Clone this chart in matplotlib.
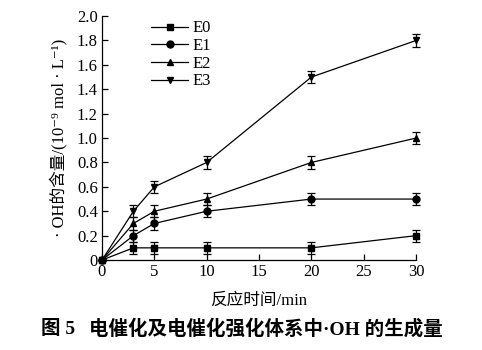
import matplotlib
matplotlib.use("Agg")
import matplotlib.pyplot as plt
from matplotlib.lines import Line2D

plt.rcParams['font.family'] = ['Liberation Serif', 'Noto Sans CJK SC', 'DejaVu Serif']

time_min = [0, 3, 5, 10, 20, 30]
e0 = [0, 0.1, 0.1, 0.1, 0.1, 0.2]
e1 = [0, 0.2, 0.3, 0.4, 0.5, 0.5]
e2 = [0, 0.3, 0.4, 0.5, 0.8, 1.0]
e3 = [0, 0.4, 0.6, 0.8, 1.5, 1.8]
err = [0, 0.05, 0.05, 0.05, 0.05, 0.05]
series_names = ['E0', 'E1', 'E2', 'E3']

fig = plt.figure(figsize=(4.82, 3.5), dpi=100)
ax = fig.add_axes([0.2116, 0.257, 0.6515, 0.697])

markers = ['s', 'o', '^', 'v']
handles = []
for ys, name, m in zip([e0, e1, e2, e3], series_names, markers):
    ax.errorbar(time_min, ys, yerr=err, color='black', marker=m, markersize=5,
                linewidth=0.9, elinewidth=0.9, capsize=3, capthick=0.9,
                clip_on=False)
    handles.append(Line2D([], [], color='black', marker=m, markersize=5,
                          linewidth=0.9, label=name))

ax.set_xlim(0, 30)
ax.set_ylim(0, 2.0)
ax.set_xticks([0, 5, 10, 15, 20, 25, 30])
ax.set_yticks([0, 0.2, 0.4, 0.6, 0.8, 1.0, 1.2, 1.4, 1.6, 1.8, 2.0])
ax.set_yticklabels(['0', '0.2', '0.4', '0.6', '0.8', '1.0', '1.2', '1.4',
                    '1.6', '1.8', '2.0'])
ax.tick_params(direction='in', length=4, width=0.9, labelsize=12, pad=3)
ax.spines['top'].set_visible(False)
ax.spines['right'].set_visible(False)
for s in ['left', 'bottom']:
    ax.spines[s].set_linewidth(0.9)

ax.set_xlabel('反应时间/min', fontsize=12, labelpad=9)
ax.set_ylabel('· OH的含量/(10⁻⁹ mol · L⁻¹)', fontsize=12, labelpad=6)

ax.legend(handles=handles, loc='upper left', bbox_to_anchor=(0.12, 1.03),
          frameon=False, fontsize=12, handlelength=2.2, labelspacing=0.1,
          borderpad=0.2, handletextpad=0.3)

fig.text(0.085, 0.06, '图 5', ha='left', va='center', fontsize=14,
         fontweight='bold')
fig.text(0.185, 0.06, '电催化及电催化强化体系中·OH 的生成量', ha='left',
         va='center', fontsize=14, fontweight='bold')

fig.savefig('out.png', dpi=100)
